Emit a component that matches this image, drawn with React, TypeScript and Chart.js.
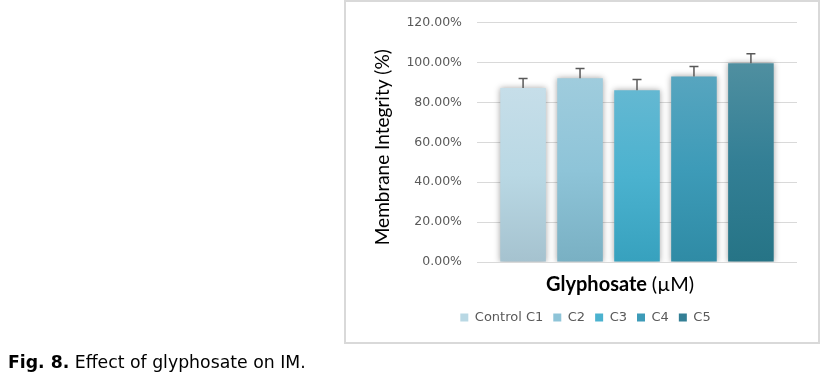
import React, { useEffect, useRef } from "react";
import { Chart, registerables } from "chart.js";

Chart.register(...registerables);

// ---- data ----
const categories = ["Control C1", "C2", "C3", "C4", "C5"];
const meanValues = [87.2, 92.1, 86.1, 93.0, 99.6];
const errorValues = [4.8, 4.8, 5.3, 4.9, 4.8];
const yMax = 120;
const yStep = 20;
const xTitleBold = "Glyphosate ";
const xTitleUnit = "(\u00B5M)";
const yTitle = "Membrane Integrity (%)";

// ---- styles ----
const topColors = ["#C6DEE9", "#9FCCDD", "#64B8D2", "#57A5BF", "#4F8FA0"];
const midColors = ["#B9D8E4", "#8EC4D8", "#4BB2CF", "#3D9BB8", "#337F95"];
const bottomColors = ["#A5C2CF", "#79B0C3", "#37A1BE", "#2F8BA5", "#267486"];

export default function App() {
  const ref = useRef<HTMLCanvasElement>(null);

  useEffect(() => {
    const canvas = ref.current!;

    const shadowPlugin = {
      id: "barShadow",
      beforeDatasetDraw(chart: any) {
        const ctx = chart.ctx;
        ctx.save();
        ctx.shadowColor = "rgba(0,0,0,0.35)";
        ctx.shadowBlur = 6;
        ctx.shadowOffsetX = 0;
        ctx.shadowOffsetY = 0;
      },
      afterDatasetDraw(chart: any) {
        chart.ctx.restore();
      },
    };

    const errorPlugin = {
      id: "errorBars",
      afterDatasetsDraw(chart: any) {
        const ctx = chart.ctx;
        const y = chart.scales.y;
        chart.data.datasets.forEach((_ds: any, i: number) => {
          const bar = chart.getDatasetMeta(i).data[0];
          if (!bar) return;
          const yTop = y.getPixelForValue(meanValues[i] + errorValues[i]);
          ctx.save();
          ctx.strokeStyle = "#595959";
          ctx.lineWidth = 1.5;
          ctx.beginPath();
          ctx.moveTo(bar.x, bar.y);
          ctx.lineTo(bar.x, yTop);
          ctx.moveTo(bar.x - 4.5, yTop);
          ctx.lineTo(bar.x + 4.5, yTop);
          ctx.stroke();
          ctx.restore();
        });
      },
    };

    const titlesPlugin = {
      id: "axisTitles",
      afterDraw(chart: any) {
        const ctx = chart.ctx;
        const ca = chart.chartArea;
        // y title
        ctx.save();
        ctx.translate(ca.left - 94, (ca.top + ca.bottom) / 2 + 5);
        ctx.rotate(-Math.PI / 2);
        ctx.font = "19px Lato";
        ctx.fillStyle = "#000000";
        ctx.textAlign = "center";
        ctx.textBaseline = "middle";
        ctx.fillText(yTitle, 0, 0);
        ctx.restore();
        // x title
        ctx.save();
        ctx.fillStyle = "#000000";
        ctx.textBaseline = "alphabetic";
        ctx.textAlign = "left";
        ctx.font = "bold 20px Lato";
        const w1 = ctx.measureText(xTitleBold).width;
        ctx.font = "20px Lato";
        const w2 = ctx.measureText(xTitleUnit).width;
        const cx = ca.left + ca.width * 0.447;
        const x0 = cx - (w1 + w2) / 2;
        const by = ca.bottom + 29;
        ctx.font = "bold 20px Lato";
        ctx.fillText(xTitleBold, x0, by);
        ctx.font = "20px Lato";
        ctx.fillText(xTitleUnit, x0 + w1, by);
        ctx.restore();
      },
    };

    const makeGradient = (i: number) => (c: any) => {
      const chart = c.chart;
      const ca = chart.chartArea;
      if (!ca) return midColors[i];
      const yTopPx = chart.scales.y.getPixelForValue(meanValues[i]);
      const g = chart.ctx.createLinearGradient(0, yTopPx, 0, ca.bottom);
      g.addColorStop(0, topColors[i]);
      g.addColorStop(0.5, midColors[i]);
      g.addColorStop(1, bottomColors[i]);
      return g;
    };

    const chart = new Chart(canvas, {
      type: "bar",
      data: {
        labels: [""],
        datasets: categories.map((name, i) => ({
          label: name,
          data: [meanValues[i]],
          backgroundColor: makeGradient(i),
          borderWidth: 0,
          categoryPercentage: 0.89,
          barPercentage: 0.8,
        })),
      },
      options: {
        responsive: false,
        animation: false,
        devicePixelRatio: 1,
        layout: { padding: { left: 374, right: 30, top: 21, bottom: 42 } },
        plugins: {
          tooltip: { enabled: false },
          title: { display: false },
          legend: {
            display: true,
            position: "bottom",
            align: "center",
            labels: {
              boxWidth: 8,
              boxHeight: 8,
              padding: 10,
              color: "#595959",
              font: { family: "DejaVu Sans", size: 13 },
              generateLabels: (_ch: any) =>
                categories.map((name, i) => ({
                  text: name,
                  fillStyle: midColors[i],
                  strokeStyle: midColors[i],
                  lineWidth: 0,
                  hidden: false,
                  datasetIndex: i,
                  fontColor: "#595959",
                })),
            },
          },
        },
        scales: {
          x: {
            type: "category",
            grid: { display: false },
            border: { display: false },
            ticks: { display: false },
            afterFit: (s: any) => {
              s.height = 39;
            },
          },
          y: {
            min: 0,
            max: yMax,
            grid: { color: "#D9D9D9", lineWidth: 1, drawTicks: false },
            border: { display: false },
            ticks: {
              stepSize: yStep,
              padding: 15,
              color: "#595959",
              font: { family: "DejaVu Sans", size: 12.5 },
              callback: (v: any) => Number(v).toFixed(2) + "%",
            },
            afterFit: (s: any) => {
              s.width = 103;
            },
          },
        },
      },
      plugins: [shadowPlugin, errorPlugin, titlesPlugin],
    } as any);

    return () => chart.destroy();
  }, []);

  return (
    <div
      style={{
        position: "fixed",
        left: 0,
        top: 0,
        width: 827,
        height: 376,
        background: "#ffffff",
        overflow: "hidden",
      }}
    >
      <div
        style={{
          position: "absolute",
          left: 344,
          top: 0,
          width: 476,
          height: 344,
          border: "2px solid #D9D9D9",
          boxSizing: "border-box",
        }}
      />
      <canvas
        ref={ref}
        width={827}
        height={376}
        style={{ position: "absolute", left: 0, top: 0, width: 827, height: 376 }}
      />
      <div
        style={{
          position: "absolute",
          left: 8,
          top: 354,
          fontFamily: "'DejaVu Sans'",
          fontSize: 17.3,
          lineHeight: "17px",
          color: "#000",
          whiteSpace: "nowrap",
        }}
      >
        <b>Fig. 8.</b> Effect of glyphosate on IM.
      </div>
    </div>
  );
}
